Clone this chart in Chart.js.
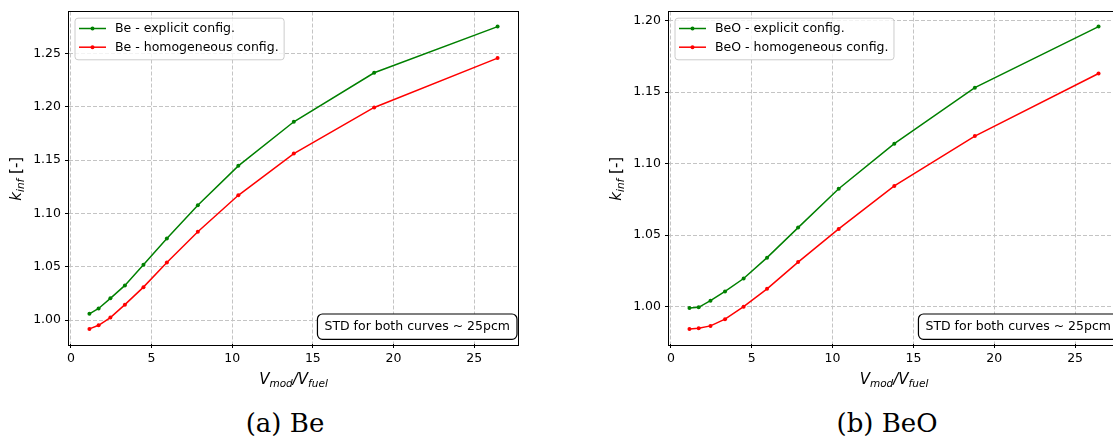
<!DOCTYPE html>
<html>
<head>
<meta charset="utf-8">
<script src="https://cdn.jsdelivr.net/npm/chart.js@4"></script>
<style>
  html, body { margin: 0; padding: 0; background: #fff; }
  body { width: 1113px; height: 439px; overflow: hidden; position: relative; }
  .panel { position: absolute; top: 0; width: 530px; height: 400px; }
  .caption {
    position: absolute; top: 408px; transform: translateX(-50%);
    font-family: 'DejaVu Serif', serif; font-size: 26px; line-height: 30px;
    white-space: nowrap; color: #000;
  }
</style>
</head>
<body>
<div class="panel" style="left:0"><canvas id="chartBe" width="530" height="400"></canvas></div>
<div class="panel" style="left:600px"><canvas id="chartBeO" width="530" height="400"></canvas></div>
<div class="caption" style="left:285px">(a) Be</div>
<div class="caption" style="left:887px">(b) BeO</div>
<script>
// ---- data ------------------------------------------------------------
// moderator / fuel volume ratio (same lattice points for both moderators)
const ratio = [1.15, 1.72, 2.45, 3.35, 4.5, 5.95, 7.87, 10.38, 13.82, 18.8, 26.45];

const beExplicit  = [1.006, 1.011, 1.0205, 1.0326, 1.052, 1.0766, 1.1077, 1.1446, 1.1859, 1.2318, 1.275];
const beHomog     = [0.9919, 0.9953, 1.0025, 1.0146, 1.031, 1.054, 1.0829, 1.117, 1.1561, 1.1993, 1.2455];
const beoExplicit = [0.9991, 0.9996, 1.0042, 1.0107, 1.0197, 1.0343, 1.0553, 1.0825, 1.114, 1.1531, 1.1958];
const beoHomog    = [0.9845, 0.985, 0.9866, 0.9913, 1.0, 1.0125, 1.0312, 1.0544, 1.0844, 1.1193, 1.163];

const xTicks    = [0, 5, 10, 15, 20, 25];
const yTicksBe  = [1.00, 1.05, 1.10, 1.15, 1.20, 1.25];
const yTicksBeO = [1.00, 1.05, 1.10, 1.15, 1.20];

const stdNote = 'STD for both curves ~ 25pcm';
// ----------------------------------------------------------------------

const FONT = "'DejaVu Sans', sans-serif";
const GREEN = '#008000', RED = '#ff0000';

Chart.defaults.font.family = FONT;
Chart.defaults.font.size = 12.5;
Chart.defaults.color = '#000';

// autoscale with 5% margin, like the plotting defaults
function padRange(vals) {
  const lo = Math.min(...vals), hi = Math.max(...vals), m = (hi - lo) * 0.05;
  return [lo - m, hi + m];
}

function series(label, color, ys) {
  return {
    label, data: ratio.map((x, i) => ({ x, y: ys[i] })),
    borderColor: color, backgroundColor: color, borderWidth: 1.5,
    pointRadius: 2, pointHoverRadius: 2, pointBorderWidth: 0, tension: 0,
  };
}

// mixed italic / subscript text
function partFont(p) {
  return (p.it ? 'italic ' : '') + (p.sub ? 10.5 : 15) + 'px ' + FONT;
}
function richWidth(ctx, parts) {
  let w = 0;
  parts.forEach(p => { ctx.font = partFont(p); w += ctx.measureText(p.t).width; });
  return w;
}
function drawRich(ctx, parts, x, y) {
  parts.forEach(p => {
    ctx.font = partFont(p);
    ctx.fillText(p.t, x, y + (p.sub ? 3 : 0));
    x += ctx.measureText(p.t).width;
  });
}

const xTitle = [{ t: 'V', it: 1 }, { t: 'mod', it: 1, sub: 1 }, { t: '/V', it: 1 }, { t: 'fuel', it: 1, sub: 1 }];
const yTitle = [{ t: 'k', it: 1 }, { t: 'inf', it: 1, sub: 1 }, { t: ' [-]' }];

const decor = {
  id: 'decor',
  afterDatasetsDraw(chart) {
    const { ctx, chartArea: ca } = chart;
    ctx.save();
    ctx.strokeStyle = '#000';
    ctx.lineWidth = 1;
    ctx.strokeRect(Math.round(ca.left) - 0.5, Math.round(ca.top) - 0.5,
                   Math.round(ca.width) + 1, Math.round(ca.height) + 1);
    ctx.restore();
  },
  afterDraw(chart, args, opts) {
    const { ctx, chartArea: ca } = chart;
    ctx.save();
    ctx.fillStyle = '#000';
    ctx.textBaseline = 'alphabetic';

    // axis titles
    const xw = richWidth(ctx, xTitle);
    drawRich(ctx, xTitle, (ca.left + ca.right) / 2 - xw / 2, 384);
    const yw = richWidth(ctx, yTitle);
    ctx.save();
    ctx.translate(20.5, (ca.top + ca.bottom) / 2 + 1);
    ctx.rotate(-Math.PI / 2);
    drawRich(ctx, yTitle, -yw / 2, 0);
    ctx.restore();

    // legend, upper left
    ctx.font = '12.5px ' + FONT;
    const sets = chart.data.datasets;
    const tw = Math.max(...sets.map(d => ctx.measureText(d.label).width));
    const lx = ca.left + 6, ly = ca.top + 6.7;
    ctx.beginPath();
    ctx.roundRect(lx, ly, 40 + tw + 5.5, 41.6, 3);
    ctx.fillStyle = 'rgba(255,255,255,0.8)';
    ctx.fill();
    ctx.strokeStyle = '#cccccc';
    ctx.lineWidth = 1;
    ctx.stroke();
    sets.forEach((d, i) => {
      const yy = ly + 10.3 + i * 18.7;
      ctx.strokeStyle = d.borderColor;
      ctx.lineWidth = 1.5;
      ctx.beginPath();
      ctx.moveTo(lx + 4, yy);
      ctx.lineTo(lx + 31, yy);
      ctx.stroke();
      ctx.fillStyle = d.borderColor;
      ctx.beginPath();
      ctx.arc(lx + 17.5, yy, 2, 0, Math.PI * 2);
      ctx.fill();
      ctx.fillStyle = '#000';
      ctx.textBaseline = 'middle';
      ctx.fillText(d.label, lx + 40, yy + 0.5);
    });

    // note box, lower right
    ctx.font = '12.5px ' + FONT;
    const nw = ctx.measureText(opts.note).width + 14, nh = 25.3;
    const nx = ca.right - 1 - nw, ny = ca.bottom - 4.7 - nh;
    ctx.beginPath();
    ctx.roundRect(nx, ny, nw, nh, 5);
    ctx.fillStyle = '#fff';
    ctx.fill();
    ctx.strokeStyle = '#000';
    ctx.lineWidth = 1.2;
    ctx.stroke();
    ctx.fillStyle = '#000';
    ctx.textBaseline = 'middle';
    ctx.fillText(opts.note, nx + 7, ny + nh / 2 + 0.5);
    ctx.restore();
  },
};

function makeChart(id, sets, yTicks, padRight) {
  const ys = sets.flatMap(s => s.data.map(p => p.y));
  const xr = padRange(ratio), yr = padRange(ys);
  const grid = { color: '#c4c4c4', lineWidth: 1, tickColor: '#000', tickLength: 4, tickWidth: 1 };
  return new Chart(document.getElementById(id), {
    type: 'line',
    data: { datasets: sets },
    options: {
      responsive: false,
      animation: false,
      layout: { padding: { top: 9, right: padRight, left: 0, bottom: 0 } },
      plugins: { legend: { display: false }, tooltip: { enabled: false }, decor: { note: stdNote } },
      scales: {
        x: {
          type: 'linear', min: xr[0], max: xr[1],
          afterFit: s => { s.height = 56; },
          afterBuildTicks: s => { s.ticks = xTicks.map(v => ({ value: v })); },
          ticks: { padding: 3, maxRotation: 0, callback: v => String(v) },
          grid, border: { display: false, dash: [4, 2] },
        },
        y: {
          type: 'linear', min: yr[0], max: yr[1],
          afterFit: s => { s.width = 69; },
          afterBuildTicks: s => { s.ticks = yTicks.map(v => ({ value: v })); },
          ticks: { padding: 4, callback: v => v.toFixed(2) },
          grid, border: { display: false, dash: [4, 2] },
        },
      },
    },
    plugins: [decor],
  });
}

makeChart('chartBe', [
  series('Be - explicit config.', GREEN, beExplicit),
  series('Be - homogeneous config.', RED, beHomog),
], yTicksBe, 12);

makeChart('chartBeO', [
  series('BeO - explicit config.', GREEN, beoExplicit),
  series('BeO - homogeneous config.', RED, beoHomog),
], yTicksBeO, 11);
</script>
</body>
</html>
